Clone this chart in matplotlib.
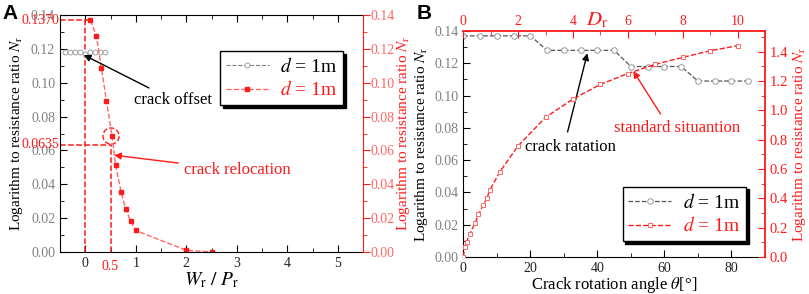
import matplotlib
matplotlib.use('Agg')
import matplotlib.pyplot as plt
from matplotlib.patches import Ellipse
from matplotlib.ticker import MultipleLocator, FormatStrFormatter

plt.rcParams['font.family'] = ['Liberation Serif', 'DejaVu Serif']
plt.rcParams['mathtext.fontset'] = 'stix'

# panel A data
offset_x = [-0.4, -0.3, -0.2, -0.1, 0.0, 0.1, 0.2, 0.3, 0.4]
offset_y = [0.118, 0.118, 0.118, 0.118, 0.117, 0.118, 0.118, 0.118, 0.118]
reloc_x = [0.1, 0.22, 0.32, 0.42, 0.53, 0.6, 0.71, 0.8, 0.9, 1.0, 2.0, 2.5]
reloc_y = [0.137, 0.1276, 0.1085, 0.0893, 0.0685, 0.0513, 0.0355, 0.0253, 0.0182, 0.0127, 0.001, 0.0]
guide_x = [0.0, 0.5]
guide_y = [0.137, 0.0635]
guide_labels = ['0.1370', '0.0635']

# panel B data
theta = [0, 5, 10, 15, 20, 25, 30, 35, 40, 45, 50, 55, 60, 65, 70, 75, 80, 85]
n_theta = [0.137, 0.137, 0.137, 0.137, 0.137, 0.128, 0.128, 0.128, 0.128, 0.128,
           0.118, 0.118, 0.118, 0.118, 0.109, 0.109, 0.109, 0.109]
dr = [0, 0.05, 0.12, 0.24, 0.43, 0.55, 0.73, 0.85, 0.97, 1.33, 2, 3, 4, 5, 6, 7, 8, 9, 10]
n_dr = [0.0, 0.07, 0.104, 0.16, 0.23, 0.29, 0.354, 0.40, 0.456, 0.58, 0.758, 0.952,
        1.076, 1.176, 1.25, 1.313, 1.36, 1.405, 1.44]

RED = '#ff1a1a'
LRED = '#ff6666'
GRAY = '#808080'
ylab = r'Logarithm to resistance ratio $N_\mathrm{r}$'
tick_fs = 10
lab_fs = 11


def style_ticks(ax, direction, color=None):
    ax.tick_params(which='both', direction=direction, labelsize=tick_fs)
    ax.tick_params(which='major', length=5)
    ax.tick_params(which='minor', length=3)
    if color:
        ax.tick_params(which='both', colors=color)


def make_legend(ax, handles, anchor):
    leg = ax.legend(handles, [r'$d$ = 1m', r'$d$ = 1m'], loc='upper left',
                    bbox_to_anchor=anchor, borderaxespad=0, fontsize=14,
                    fancybox=False, edgecolor='black', framealpha=1, handlelength=2.2,
                    shadow={'color': 'black', 'alpha': 1}, handletextpad=0.6,
                    borderpad=0.3, labelspacing=0.25)
    leg.get_frame().set_linewidth(1.0)
    leg.get_texts()[1].set_color(RED)
    return leg


fig = plt.figure(figsize=(8.09, 2.94), dpi=100)

# ---------------- panel A ----------------
axA = fig.add_axes([0.0742, 0.1429, 0.3745, 0.806])
axA.set_xlim(-0.5, 5.5)
axA.set_ylim(0, 0.14)
axA.xaxis.set_major_locator(MultipleLocator(1))
axA.xaxis.set_minor_locator(MultipleLocator(0.5))
axA.yaxis.set_major_locator(MultipleLocator(0.02))
axA.yaxis.set_minor_locator(MultipleLocator(0.01))
axA.yaxis.set_major_formatter(FormatStrFormatter('%.2f'))
style_ticks(axA, 'in')
axA.tick_params(which='both', top=True, right=False)
axA.tick_params(axis='y', labelcolor=GRAY)
axA.tick_params(axis='x', labelcolor='#222222')
axA.spines['right'].set_visible(False)
axA.set_xlabel(r'$W_\mathrm{r}\ /\ P_\mathrm{r}$', fontsize=14, labelpad=0)
axA.set_ylabel(ylab, fontsize=lab_fs, labelpad=4)

axAr = axA.twinx()
axAr.set_ylim(0, 0.14)
axAr.yaxis.set_major_locator(MultipleLocator(0.02))
axAr.yaxis.set_minor_locator(MultipleLocator(0.01))
axAr.yaxis.set_major_formatter(FormatStrFormatter('%.2f'))
style_ticks(axAr, 'out', RED)
axAr.tick_params(axis='y', labelcolor=LRED, pad=0.5)
for s in ['top', 'bottom', 'left']:
    axAr.spines[s].set_visible(False)
axAr.spines['right'].set_color(RED)
axAr.set_ylabel(ylab, color=RED, fontsize=lab_fs, labelpad=0)

# guide lines
for gx, gy, gl in zip(guide_x, guide_y, guide_labels):
    axA.vlines(gx, 0, gy, colors=RED, linestyles='--', lw=1.1)
    axA.text(-0.52, gy, gl, color=RED, fontsize=tick_fs, ha='right', va='center')
axA.hlines(guide_y[0], -0.5, reloc_x[0], colors=RED, linestyles='--', lw=1.1)
axA.hlines(guide_y[1], -0.5, guide_x[1], colors=RED, linestyles='--', lw=1.1)
axA.add_patch(Ellipse((reloc_x[4] - 0.02, reloc_y[4]), 0.32, 0.0095, fill=False,
                      ec=RED, ls='--', lw=1.0))
axA.text(0.5, -0.035, '0.5', color=RED, fontsize=tick_fs, ha='center', va='top',
         transform=axA.get_xaxis_transform())

l1, = axA.plot(offset_x, offset_y, ls='--', color=GRAY, lw=0.8, marker='o', ms=3.5,
               mfc='white', mec='#a0a0a0', mew=0.7)
l2, = axA.plot(reloc_x, reloc_y, ls='--', color=LRED, lw=1.0, marker='s', ms=3,
               mfc=RED, mec=RED)

axA.annotate('crack offset', xy=(-0.03, 0.1164), xytext=(0.96, 0.0898), fontsize=12,
             ha='left', va='center', color='black',
             arrowprops=dict(arrowstyle='-|>', color='black', lw=1.0, shrinkA=2, shrinkB=0,
                             mutation_scale=10))
axA.annotate('crack relocation', xy=(0.57, 0.0572), xytext=(1.95, 0.0483), fontsize=12,
             ha='left', va='center', color=RED,
             arrowprops=dict(arrowstyle='-|>', color=RED, lw=1.0, shrinkA=2, shrinkB=0,
                             mutation_scale=10))

make_legend(axA, [l1, l2], (0.528, 0.849))

fig.text(0.003, 0.985, 'A', fontsize=15, fontweight='bold', family='Liberation Sans',
         ha='left', va='top')

# ---------------- panel B ----------------
axB = fig.add_axes([0.5727, 0.1259, 0.3729, 0.7687])
axB.set_xlim(0, 90)
axB.set_ylim(0, 0.14)
axB.xaxis.set_major_locator(MultipleLocator(20))
axB.xaxis.set_minor_locator(MultipleLocator(10))
axB.yaxis.set_major_locator(MultipleLocator(0.02))
axB.yaxis.set_minor_locator(MultipleLocator(0.01))
axB.yaxis.set_major_formatter(FormatStrFormatter('%.2f'))
style_ticks(axB, 'in')
axB.tick_params(which='both', top=False, right=False)
axB.tick_params(axis='y', labelcolor=GRAY)
axB.tick_params(axis='x', labelcolor='#222222')
axB.spines['top'].set_visible(False)
axB.spines['right'].set_visible(False)
axB.set_xlabel(r'Crack rotation angle $\theta$[°]', fontsize=12, labelpad=0)
axB.set_ylabel(ylab, fontsize=lab_fs, labelpad=3)

axBr = axB.twinx()
axBr.set_ylim(0, 1.54)
axBr.yaxis.set_major_locator(MultipleLocator(0.2))
axBr.yaxis.set_minor_locator(MultipleLocator(0.1))
axBr.yaxis.set_major_formatter(FormatStrFormatter('%.1f'))
style_ticks(axBr, 'in', RED)
axBr.tick_params(axis='y', labelsize=tick_fs + 0.5)
for s in ['top', 'bottom', 'left']:
    axBr.spines[s].set_visible(False)
axBr.spines['right'].set_color(RED)
axBr.spines['right'].set_linewidth(1.3)
axBr.set_ylabel(ylab, color=RED, fontsize=lab_fs, labelpad=2)

axBt = axBr.twiny()
axBt.set_xlim(0, 11)
axBt.xaxis.set_major_locator(MultipleLocator(2))
axBt.xaxis.set_minor_locator(MultipleLocator(1))
style_ticks(axBt, 'in', RED)
axBt.tick_params(axis='x', pad=2)
for s in ['bottom', 'left', 'right']:
    axBt.spines[s].set_visible(False)
axBt.spines['top'].set_color(RED)
axBt.spines['top'].set_linewidth(1.3)
axBt.text(0.443, 1.005, r'$D_\mathrm{r}$', color=RED, fontsize=15,
          transform=axBt.transAxes, ha='center', va='bottom')

b1, = axB.plot(theta, n_theta, ls='--', color='#555555', lw=0.9, marker='o', ms=4,
               mfc='white', mec='#999999', mew=0.7)
b2, = axBt.plot(dr, n_dr, ls='--', color=RED, lw=1.0, marker='s', ms=3.5,
                mfc='white', mec=LRED, mew=0.7)

axB.annotate('crack ratation', xy=(37, 0.1262), xytext=(18.4, 0.0683), fontsize=12,
             ha='left', va='center', color='black',
             arrowprops=dict(arrowstyle='-|>', color='black', lw=1.0, shrinkA=3, shrinkB=0,
                             mutation_scale=10, relpos=(0.45, 1)))
axB.annotate('standard situantion', xy=(50.7, 0.1152), xytext=(45, 0.0797), fontsize=12,
             ha='left', va='center', color=RED,
             arrowprops=dict(arrowstyle='-|>', color=RED, lw=1.0, shrinkA=3, shrinkB=0,
                             mutation_scale=10, relpos=(0.4, 1)))

make_legend(axBt, [b1, b2], (0.528, 0.311))

fig.text(0.515, 0.985, 'B', fontsize=15, fontweight='bold', family='Liberation Sans',
         ha='left', va='top')

fig.savefig('out.png', dpi=100)
